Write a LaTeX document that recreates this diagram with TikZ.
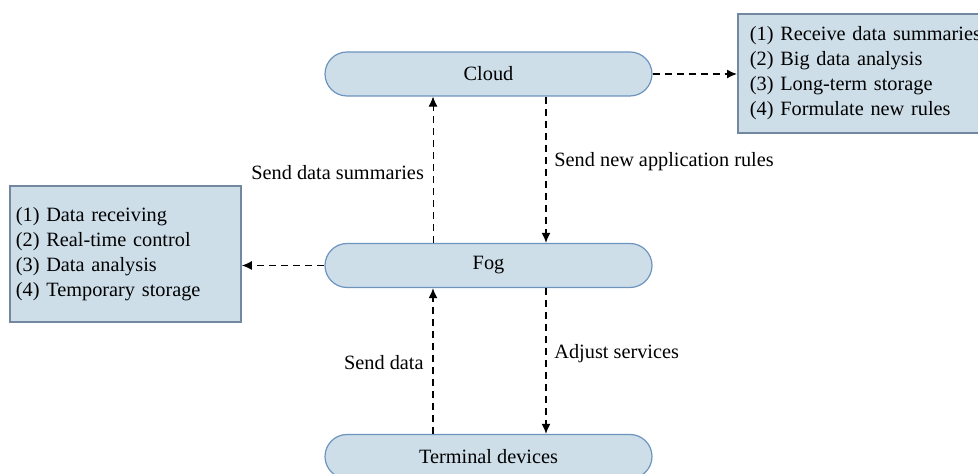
\documentclass[tikz,border=0pt]{standalone}
\usepackage{fontspec}
\setmainfont{Liberation Serif}
\usetikzlibrary{arrows.meta, shapes.misc, calc}
\definecolor{layerfill}{RGB}{205,222,233}
\definecolor{layerdraw}{RGB}{108,148,190}
\definecolor{taskdraw}{RGB}{115,135,160}
\tikzset{
  % layers of the architecture
  layer/.style={rounded rectangle, draw=layerdraw, fill=layerfill, line width=0.6pt,
    minimum width=163.5pt, minimum height=22pt, inner sep=0pt},
  % task lists beside a layer
  tasks/.style={rectangle, draw=taskdraw, fill=layerfill, line width=0.9pt,
    align=left, anchor=north west},
  % data flow between layers
  flow/.style={-{Latex[length=5pt,width=4.5pt]}, line width=0.75pt, dash pattern=on 3.5pt off 2.5pt},
  flow thin/.style={flow, line width=0.45pt, dash pattern=on 3.5pt off 2.5pt}
}

\begin{document}
\begin{tikzpicture}[x=0.5pt, y=-0.5pt, font=\fontsize{10.15}{12.5}\selectfont]
  \useasboundingbox (0,0) rectangle (978,474);

  \node[layer] (cloud) at (488.5,74) {Cloud};
  \node[layer] (fog) at (488.5,265.5) {Fog};
  \node[layer] (term) at (488.5,456.5) {Terminal devices};

  \node[tasks, text width=122pt, inner xsep=6pt, minimum height=59.5pt] (cloudjobs) at (737,13)
    {(1) Receive data summaries\\(2) Big data analysis\\(3) Long-term storage\\(4) Formulate new rules};
  \node[tasks, text width=109.5pt, inner xsep=3pt, minimum height=68pt] (fogjobs) at (9,185)
    {(1) Data receiving\\(2) Real-time control\\(3) Data analysis\\(4) Temporary storage};

  \draw[flow] (cloud.east) -- (cloud.east -| cloudjobs.west);
  \draw[flow] (fog.west) -- (fog.west -| fogjobs.east);

  % cloud <-> fog
  \draw[flow thin] ([xshift=-27.75pt]fog.north) -- node[left, xshift=-1pt, yshift=-1.25pt]{Send data summaries} ([xshift=-27.75pt]cloud.south);
  \draw[flow] ([xshift=28.75pt]cloud.south) -- node[right, xshift=0.5pt, yshift=4.25pt]{Send new application rules} ([xshift=28.75pt]fog.north);

  % fog <-> terminal devices
  \draw[flow] ([xshift=-27.75pt]term.north) -- node[left, xshift=-1pt, yshift=-1pt]{Send data} ([xshift=-27.75pt]fog.south);
  \draw[flow] ([xshift=28.75pt]fog.south) -- node[right, xshift=0.5pt, yshift=3.5pt]{Adjust services} ([xshift=28.75pt]term.north);
\end{tikzpicture}
\end{document}
